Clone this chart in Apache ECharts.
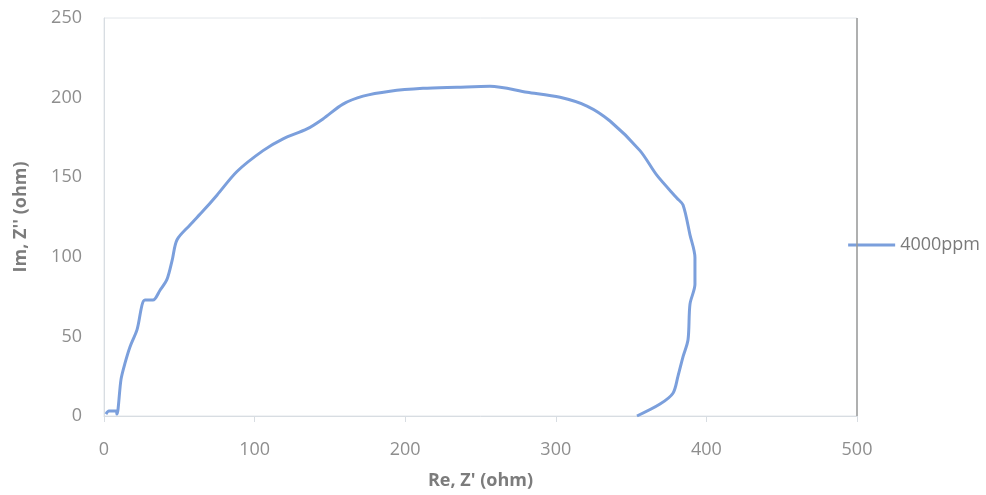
<!DOCTYPE html>
<html>
<head>
<meta charset="UTF-8">
<title>Nyquist 4000ppm</title>
<script src="https://cdn.jsdelivr.net/npm/echarts@6/dist/echarts.min.js"></script>
<style>
body{margin:0;background:#fff;}
#chart{width:986px;height:495px;}
</style>
</head>
<body>
<div id="chart"></div>
<script type="text/javascript">
// Re Z' and Im Z'' (ohm)
var seriesName = '4000ppm';
var reZ = [1.3, 3.3, 8.0, 8.6, 11.3, 13.9, 17.3, 21.9, 27.2, 32.5, 37.2, 41.8, 45.2, 48.5, 57.1, 65.7, 75.0, 88.3, 105.6, 118.9, 134.8, 145.4, 158.7, 172.0, 189.9, 211.8, 234.4, 256.3, 281, 302.8, 320.7, 336, 355.9, 367.2, 380.5, 384.5, 389.1, 392.4, 392.4, 389.1, 387.8, 384.5, 381.1, 377.8, 369.2, 353.9];
var imZ = [1.2, 3.1, 3.1, 1.2, 23.0, 33.0, 43.5, 54.1, 72.8, 72.8, 79.0, 85.8, 97.6, 110.7, 120.0, 128.7, 138.7, 153.6, 166.7, 174.1, 180.3, 186.6, 195.9, 200.9, 204.0, 205.8, 206.5, 207.1, 203.4, 200.2, 194.7, 185.3, 166.7, 151.1, 136.8, 132.5, 113.8, 99.5, 82.7, 70.3, 47.9, 37.3, 24.9, 14.3, 7.5, 0];
var xTicks = [0, 100, 200, 300, 400, 500];
var yTicks = [0, 50, 100, 150, 200, 250];

var pts = [];
for (var i = 0; i < reZ.length; i++) {
	pts.push([reZ[i], imZ[i]]);
}

var chart = echarts.init(document.getElementById('chart'));
var font = 'Open Sans, Lato, sans-serif';
var option = {
	animation: false,
	grid: {left: 104, right: 129, top: 18, bottom: 75, show: true, borderColor: '#e2e6ea', borderWidth: 1},
	legend: {
		right: 1, top: 231,
		data: [seriesName],
		icon: 'rect', itemWidth: 47, itemHeight: 3, itemGap: 2,
		textStyle: {color: '#7a7a7a', fontSize: 18, fontFamily: font}
	},
	xAxis: {
		type: 'value', min: xTicks[0], max: xTicks[xTicks.length - 1], interval: 100,
		name: "Re, Z' (ohm)", nameLocation: 'middle', nameGap: 56,
		nameTextStyle: {color: '#7c7c7c', fontSize: 18, fontWeight: 'bold', fontFamily: font},
		axisLine: {lineStyle: {color: '#d8dde2'}},
		axisTick: {show: true, length: 6, inside: false, lineStyle: {color: '#d8dde2'}},
		axisLabel: {color: '#8e8e8e', fontSize: 18, margin: 25, fontFamily: font},
		splitLine: {show: false}
	},
	yAxis: {
		type: 'value', min: yTicks[0], max: yTicks[yTicks.length - 1], interval: 50,
		name: "Im, Z'' (ohm)", nameLocation: 'middle', nameGap: 74, nameRotate: 90,
		nameTextStyle: {color: '#7c7c7c', fontSize: 18, fontWeight: 'bold', fontFamily: font},
		axisLine: {show: true, lineStyle: {color: '#d8dde2'}},
		axisTick: {show: false},
		axisLabel: {color: '#8e8e8e', fontSize: 18, margin: 22, fontFamily: font},
		splitLine: {show: false}
	},
	series: [{
		name: seriesName,
		type: 'line',
		data: pts,
		smooth: 0.3,
		showSymbol: false,
		color: '#7b9fdc',
		lineStyle: {width: 3, color: '#7b9fdc'},
		markLine: {
			silent: true, symbol: 'none', label: {show: false},
			lineStyle: {color: '#9a9a9a', type: 'solid', width: 1.5},
			data: [[{coord: [500, 0]}, {coord: [500, 250]}]]
		}
	}]
};
chart.setOption(option);
</script>
</body>
</html>
